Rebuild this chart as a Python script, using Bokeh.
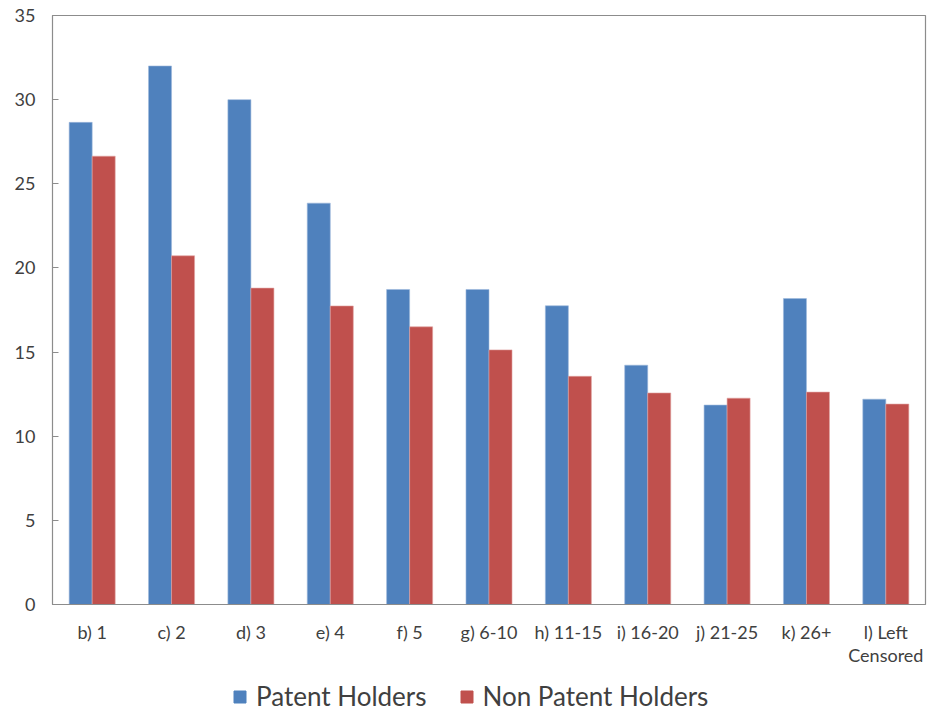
from bokeh.plotting import figure
from bokeh.models import ColumnDataSource, FactorRange, Legend, LegendItem
from bokeh.layouts import column
from bokeh.transform import dodge
from bokeh.embed import file_html
from bokeh.resources import INLINE

categories = ["b) 1", "c) 2", "d) 3", "e) 4", "f) 5", "g) 6-10", "h) 11-15",
              "i) 16-20", "j) 21-25", "k) 26+", "l) Left\nCensored"]
patent_holders = [28.65, 32.0, 30.0, 23.85, 18.72, 18.72, 17.75, 14.22, 11.85, 18.18, 12.2]
non_patent_holders = [26.64, 20.72, 18.8, 17.74, 16.5, 15.13, 13.56, 12.57, 12.26, 12.62, 11.91]
y_ticks = [0, 5, 10, 15, 20, 25, 30, 35]
series_names = ["Patent Holders", "Non Patent Holders"]

FONT = "Lato"
BLUE = "#4F81BD"
RED = "#C0504D"

src = ColumnDataSource(data=dict(cat=categories, ph=patent_holders, nph=non_patent_holders))

p = figure(width=927, height=668, x_range=FactorRange(*categories, range_padding=0),
           y_range=(0, 35), output_backend="svg", toolbar_location=None,
           min_border_left=52, min_border_right=2, min_border_top=15, min_border_bottom=62)

bar_style = dict(width=0.29, source=src, line_width=0.6)
p.vbar(x=dodge("cat", -0.145, range=p.x_range), top="ph",
       fill_color=BLUE, line_color="#9DB8DC", **bar_style)
p.vbar(x=dodge("cat", 0.145, range=p.x_range), top="nph",
       fill_color=RED, line_color="#E0A3A1", **bar_style)

p.xgrid.visible = False
p.ygrid.visible = False
p.outline_line_color = "#8C8C8C"
p.outline_line_width = 1.2

p.yaxis.ticker = y_ticks
p.yaxis.axis_line_color = "#8C8C8C"
p.yaxis.major_tick_line_color = "#8C8C8C"
p.yaxis.major_tick_in = 6
p.yaxis.major_tick_out = 0
p.yaxis.minor_tick_line_color = None
p.yaxis.major_label_text_font = FONT
p.yaxis.major_label_text_font_size = "18px"
p.yaxis.major_label_text_color = "#404040"
p.yaxis.major_label_standoff = 17

p.xaxis.axis_line_color = "#8C8C8C"
p.xaxis.major_tick_line_color = None
p.xaxis.minor_tick_line_color = None
p.xaxis.major_label_text_font = FONT
p.xaxis.major_label_text_font_size = "18px"
p.xaxis.major_label_text_line_height = 1.05
p.xaxis.major_label_text_color = "#404040"
p.xaxis.major_label_standoff = 10

# legend strip below the chart (its frame is aligned with the chart's frame)
lg = figure(width=927, height=44, x_range=(0, 1), y_range=(0, 1),
            output_backend="svg", toolbar_location=None,
            min_border_left=0, min_border_right=0, min_border_top=0, min_border_bottom=0)
lg.axis.visible = False
lg.grid.visible = False
lg.outline_line_color = None
proxy_src = ColumnDataSource(data=dict(x=[-10], top=[0]))
lr1 = lg.vbar(x="x", top="top", width=0.1, source=proxy_src, fill_color=BLUE, line_color=BLUE)
lr2 = lg.vbar(x="x", top="top", width=0.1, source=proxy_src, fill_color=RED, line_color=RED)

legend = Legend(items=[LegendItem(label=series_names[0], renderers=[lr1], index=0),
                       LegendItem(label=series_names[1], renderers=[lr2], index=0)],
                orientation="horizontal", location=(180, 0),
                label_text_font=FONT, label_text_font_size="26px", label_text_color="#404040",
                glyph_width=15, glyph_height=15, spacing=32, label_standoff=9,
                border_line_color=None, background_fill_alpha=0, margin=0, padding=0)
lg.add_layout(legend, "center")

layout = column(p, lg, spacing=0)
open("out.html", "w").write(file_html(layout, INLINE))
